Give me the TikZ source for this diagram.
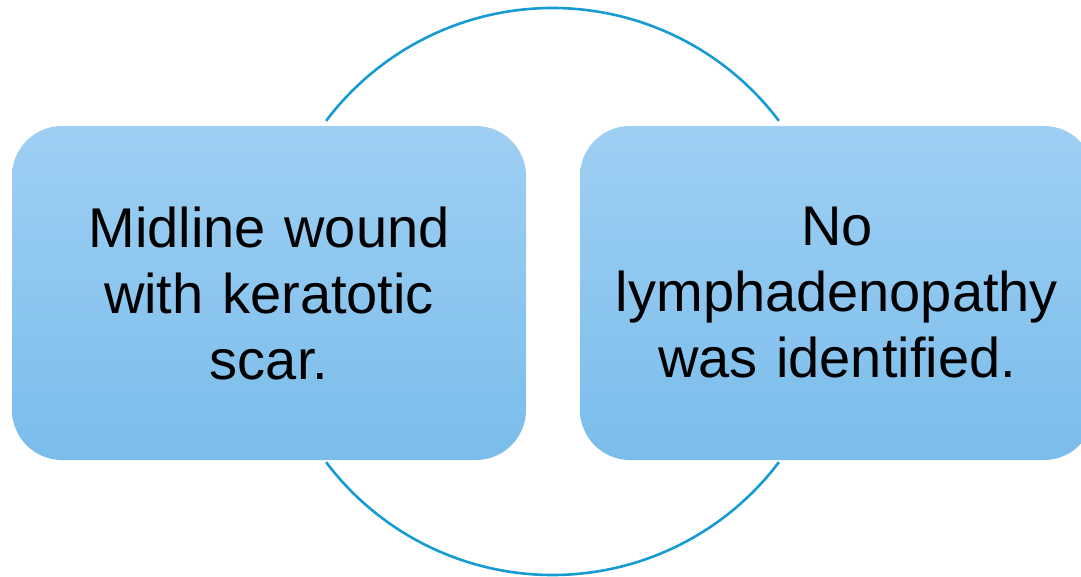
\documentclass[tikz,border=0pt]{standalone}
\usepackage{fontspec}
\setmainfont{Liberation Sans}
\definecolor{ringblue}{RGB}{22,155,210}
\definecolor{boxtop}{RGB}{159,207,243}
\definecolor{boxbot}{RGB}{122,189,235}
\begin{document}
\begin{tikzpicture}[x=1pt,y=1pt,
  card/.style={rectangle, rounded corners=50pt, minimum width=514pt, minimum height=334pt,
    top color=boxtop, bottom color=boxbot, draw=none, inner sep=0pt},
  cardtext/.style={align=center, text width=480pt, font=\fontsize{56}{66}\selectfont, text=black},
  ring/.style={draw=ringblue, line width=2.6pt}]
\clip (0,0) rectangle (1081,576);
\useasboundingbox (0,0) rectangle (1081,576);
\coordinate (c) at (552.5,284.5);
\draw[ring] ([shift={(37:283.5)}]c) arc[start angle=37, end angle=143, radius=283.5];
\draw[ring] ([shift={(217:283.5)}]c) arc[start angle=217, end angle=323, radius=283.5];
\node[card] (left) at (269,283) {};
\node[card] (right) at (837,283) {};
\node[cardtext] (lt) at (left.center) {Midline wound\\with keratotic\\scar.};
\node[cardtext] (rt) at (right.center) {No\\lymphadenopathy\\was identified.};
\end{tikzpicture}
\end{document}
